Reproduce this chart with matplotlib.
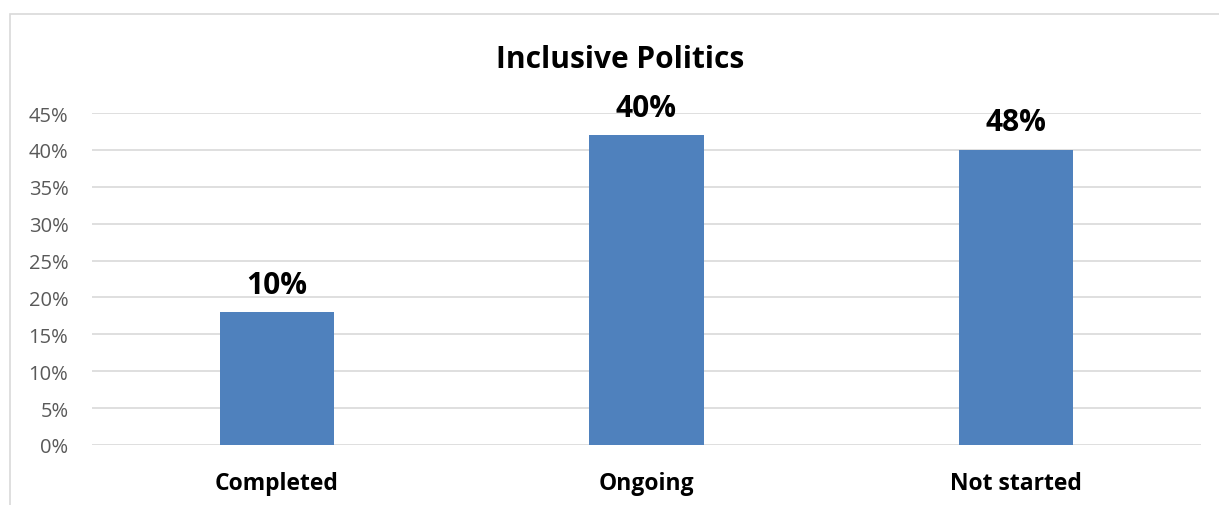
import matplotlib
matplotlib.use('Agg')
import matplotlib.pyplot as plt
from matplotlib.patches import Rectangle
from matplotlib.ticker import MultipleLocator, PercentFormatter

# data (bar heights vs. printed labels differ in the source)
categories = ['Completed', 'Ongoing', 'Not started']
bar_values = [18, 42, 40]
value_labels = ['10%', '40%', '48%']
title = 'Inclusive Politics'

plt.rcParams['font.family'] = ['Open Sans', 'DejaVu Sans']

fig = plt.figure(figsize=(12.19, 5.06), dpi=100)
ax = fig.add_axes([92 / 1219, 60 / 506, 1109 / 1219, 332 / 506])

# light chart-area border (top and left visible)
fig.patches.append(Rectangle((10 / 1219, -0.1), 1.2, (506 - 15) / 506 + 0.1,
                             transform=fig.transFigure, fill=False,
                             edgecolor='#D9D9D9', linewidth=1.2))

x = range(len(categories))
bars = ax.bar(x, bar_values, width=0.31, color='#4F81BD', zorder=3)

for b, lab in zip(bars, value_labels):
    ax.annotate(lab, (b.get_x() + b.get_width() / 2, b.get_height()),
                xytext=(0, 9), textcoords='offset points',
                ha='center', va='bottom', fontsize=21.5, fontweight='bold',
                color='black')

ax.set_xlim(-0.5, 2.5)
ax.set_ylim(0, 45)
ax.yaxis.set_major_locator(MultipleLocator(5))
ax.yaxis.set_major_formatter(PercentFormatter(decimals=0))
ax.grid(axis='y', color='#D9D9D9', linewidth=1.2, zorder=0)
ax.set_xticks(list(x))
ax.set_xticklabels(categories, fontsize=16.5, fontweight='bold')
ax.tick_params(axis='x', length=0, pad=19)
ax.tick_params(axis='y', length=0, pad=17, labelsize=14.5, labelcolor='#595959')
for s in ax.spines.values():
    s.set_visible(False)

fig.text(620 / 1219, 1 - 60 / 506, title, ha='center', va='center',
         fontsize=21.5, fontweight='bold')

fig.savefig('out.png', dpi=100, facecolor='white')
